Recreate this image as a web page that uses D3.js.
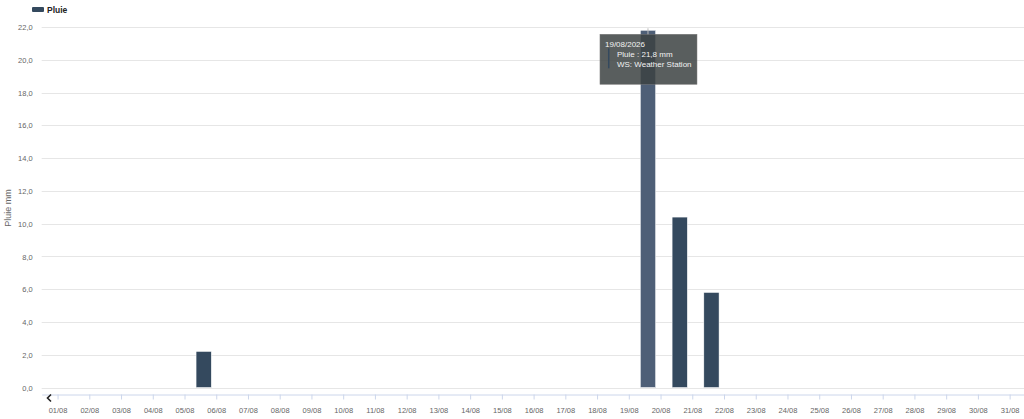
<!DOCTYPE html>
<html>
<head>
<meta charset="utf-8">
<script src="https://cdn.jsdelivr.net/npm/d3@7"></script>
<style>
  body { margin: 0; background: #fff; }
  svg { display: block; font-family: "Liberation Sans", Arial, sans-serif; }
  .tick text { fill: #666; }
</style>
</head>
<body>
<div id="chart"></div>
<script>
var svgWidth = 1024;
var svgHeight = 419;

// data
var seriesName = "Pluie";
var barDays = ["2026-08-05", "2026-08-19", "2026-08-20", "2026-08-21"];
var barValues = [2.2, 21.8, 10.4, 5.8];
var yTicks = [0, 2, 4, 6, 8, 10, 12, 14, 16, 18, 20, 22];
var hoverIndex = 1;
var tooltipLines = ["19/08/2026", "Pluie : 21,8 mm", "WS: Weather Station"];

var barColor = "#34495e";
var hoverColor = "#4e5f77";

var parseDay = d3.timeParse("%Y-%m-%d");

var svg = d3.select("#chart")
  .append("svg")
  .attr("width", svgWidth)
  .attr("height", svgHeight);

// x scale: one month, half a day of padding each side
var xScale = d3.scaleTime()
  .domain([new Date(2026, 6, 31, 12), new Date(2026, 7, 31, 12)])
  .range([41.7, 1025.5]);

var yScale = d3.scaleLinear()
  .domain([0, 22])
  .range([387.5, 27]);

var axisY = 394;

// gridlines
svg.append("g")
  .selectAll("line")
  .data(yTicks)
  .enter()
  .append("line")
  .attr("x1", 41.7)
  .attr("x2", svgWidth)
  .attr("y1", d => Math.round(yScale(d)) + 0.5)
  .attr("y2", d => Math.round(yScale(d)) + 0.5)
  .attr("stroke", "#e6e6e6")
  .attr("stroke-width", 1);

// y axis labels
var leftAxis = d3.axisLeft(yScale)
  .tickValues(yTicks)
  .tickSize(0)
  .tickPadding(9)
  .tickFormat(d => d3.format(".1f")(d).replace(".", ","));

var yAxis = svg.append("g")
  .attr("transform", "translate(41.7,0)")
  .style("font-size", "7.5px")
  .call(leftAxis);
yAxis.select(".domain").remove();
yAxis.selectAll("text").attr("fill", "#666").attr("dy", "0.35em");

// y axis title
svg.append("text")
  .attr("transform", "translate(11,208) rotate(-90)")
  .attr("text-anchor", "middle")
  .style("font-size", "9px")
  .attr("fill", "#666")
  .text("Pluie mm");

// x axis
var days = d3.timeDay.range(new Date(2026, 7, 1), new Date(2026, 8, 1));
var bottomAxis = d3.axisBottom(xScale)
  .tickValues(days)
  .tickSize(5)
  .tickSizeOuter(0)
  .tickPadding(8)
  .tickFormat(d3.timeFormat("%d/%m"));

var xAxis = svg.append("g")
  .attr("transform", `translate(0, ${axisY + 0.5})`)
  .style("font-size", "7.5px")
  .call(bottomAxis);
xAxis.select(".domain").attr("stroke", "#ccd6eb");
xAxis.selectAll(".tick line").attr("stroke", "#ccd6eb");
xAxis.selectAll("text").attr("fill", "#666");

// scroll arrow
svg.append("path")
  .attr("d", "M51,394.5 L47.5,398 L51,401.5")
  .attr("fill", "none")
  .attr("stroke", "#222")
  .attr("stroke-width", 1.6);

// bars: drawn at mid-afternoon of each day
var barData = barDays.map((d, i) => {
  var t = parseDay(d);
  return { date: d3.timeMinute.offset(t, 14 * 60 + 30), value: barValues[i], i: i };
});
var dayWidth = xScale(new Date(2026, 7, 2)) - xScale(new Date(2026, 7, 1));
var barWidth = dayWidth * 0.48;

svg.append("g")
  .selectAll("rect")
  .data(barData)
  .enter()
  .append("rect")
  .attr("x", d => xScale(d.date) - barWidth / 2)
  .attr("y", d => yScale(d.value))
  .attr("width", barWidth)
  .attr("height", d => yScale(0) - yScale(d.value))
  .attr("fill", d => d.i === hoverIndex ? hoverColor : barColor)
  .attr("stroke", "#fff")
  .attr("stroke-width", 0.5);

// legend
svg.append("rect")
  .attr("x", 32)
  .attr("y", 7)
  .attr("width", 12)
  .attr("height", 5)
  .attr("rx", 1)
  .attr("fill", barColor);
svg.append("text")
  .attr("x", 47)
  .attr("y", 12.5)
  .style("font-size", "8.5px")
  .style("font-weight", "bold")
  .attr("fill", "#222")
  .text(seriesName);

// tooltip on hovered bar
var hb = barData[hoverIndex];
var tipX = xScale(hb.date) - 48;
var tipY = yScale(hb.value) + 4;
var tip = svg.append("g").attr("transform", `translate(${tipX},${tipY})`);

svg.append("line")
  .attr("x1", xScale(hb.date))
  .attr("x2", xScale(hb.date))
  .attr("y1", yScale(hb.value) - 2)
  .attr("y2", tipY)
  .attr("stroke", "#bbb")
  .attr("stroke-width", 1);

tip.append("rect")
  .attr("width", 97)
  .attr("height", 50)
  .attr("fill", "rgb(60,66,66)")
  .attr("fill-opacity", 0.85)
  .attr("stroke", "#777")
  .attr("stroke-width", 0.5);

tip.append("rect")
  .attr("x", 8)
  .attr("y", 14)
  .attr("width", 1.5)
  .attr("height", 20)
  .attr("fill", barColor);

tip.selectAll("text.line")
  .data(tooltipLines)
  .enter()
  .append("text")
  .attr("class", "line")
  .attr("x", (d, i) => i === 0 ? 5 : 17)
  .attr("y", (d, i) => 13 + i * 10)
  .style("font-size", "8px")
  .attr("fill", "#f2f2f2")
  .text(d => d);
</script>
</body>
</html>
